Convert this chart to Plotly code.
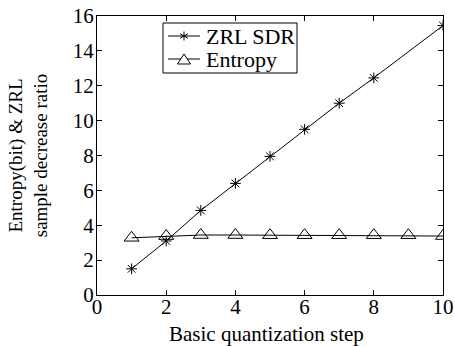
import plotly.graph_objects as go

steps_sdr = [1, 2, 3, 4, 5, 6, 7, 8, 10]
zrl_sdr = [1.5, 3.1, 4.85, 6.4, 7.95, 9.5, 11.0, 12.45, 15.45]
steps_ent = [1, 2, 3, 4, 5, 6, 7, 8, 9, 10]
entropy = [3.28, 3.38, 3.44, 3.44, 3.43, 3.43, 3.43, 3.43, 3.43, 3.38]

x_ticks = [0, 2, 4, 6, 8, 10]
y_ticks = [0, 2, 4, 6, 8, 10, 12, 14, 16]
legend_names = ["ZRL SDR", "Entropy"]
x_title = "Basic quantization step"
y_title = "Entropy(bit) & ZRL<br>sample decrease ratio"

fam = "Liberation Serif, Times New Roman, serif"
tick_font = dict(family=fam, size=21, color="black")
xt_font = dict(family=fam, size=21, color="black")
yt_font = dict(family=fam, size=19, color="black")
leg_font = dict(family=fam, size=22, color="black")

W, H = 455, 346
ML, MR, MT, MB = 97, 12, 16, 51
PW, PH = W - ML - MR, H - MT - MB


def px2paper(px, py):
    return (px - ML) / PW, (H - MB - py) / PH


fig = go.Figure()
fig.add_trace(go.Scatter(
    x=steps_sdr, y=zrl_sdr, name=legend_names[0], mode="lines+markers",
    line=dict(color="black", width=1),
    marker=dict(symbol="asterisk-open", size=9, color="black", line=dict(width=1, color="black")),
    showlegend=False,
))
fig.add_trace(go.Scatter(
    x=steps_ent, y=entropy, name=legend_names[1], mode="lines+markers",
    line=dict(color="black", width=1),
    marker=dict(symbol="triangle-up-open", size=13, color="black", line=dict(width=1, color="black")),
    showlegend=False,
))

axis_common = dict(
    showline=True, linecolor="black", linewidth=1, mirror="ticks",
    ticks="inside", ticklen=5, tickcolor="black", showgrid=False, zeroline=False,
    tickfont=tick_font, automargin=False,
)
fig.update_xaxes(range=[0, 10], tickvals=x_ticks, ticklabelstandoff=-7, **axis_common)
fig.update_yaxes(range=[0, 16], tickvals=y_ticks, ticklabelstandoff=-2,
                 title=dict(text=y_title, font=yt_font, standoff=20),
                 **axis_common)

# Manual legend box (MATLAB-style, compact rows)
shapes = []
x0, y0 = px2paper(163, 73)
x1, y1 = px2paper(297, 23)
shapes.append(dict(type="rect", xref="paper", yref="paper", x0=x0, y0=y0, x1=x1, y1=y1,
                   line=dict(color="black", width=1), fillcolor="white", layer="above"))
rows_py = [36, 59]
lx0, lx1, mx = 168, 200, 184
for i, py in enumerate(rows_py):
    a, b = px2paper(lx0, py)
    c, _ = px2paper(lx1, py)
    shapes.append(dict(type="line", xref="paper", yref="paper", x0=a, y0=b, x1=c, y1=b,
                       line=dict(color="black", width=1), layer="above"))
# asterisk marker in legend
cx, cy = px2paper(mx, rows_py[0])
r = 4.5
for dx, dy in [(0, r), (r * 0.87, r * 0.5), (r * 0.87, -r * 0.5)]:
    shapes.append(dict(type="line", xref="paper", yref="paper",
                       x0=cx - dx / PW, y0=cy - dy / PH, x1=cx + dx / PW, y1=cy + dy / PH,
                       line=dict(color="black", width=1), layer="above"))
# triangle marker in legend
tx, ty = px2paper(mx, rows_py[1])
hw, hh = 6.5, 5
path = "M {} {} L {} {} L {} {} Z".format(
    tx - hw / PW, ty - hh / PH, tx + hw / PW, ty - hh / PH, tx, ty + hh / PH)
shapes.append(dict(type="path", xref="paper", yref="paper", path=path,
                   line=dict(color="black", width=1), fillcolor="white", layer="above"))

annotations = []
for name, py in zip(legend_names, rows_py):
    ax_, ay_ = px2paper(204, py)
    annotations.append(dict(text=name, xref="paper", yref="paper", x=ax_, y=ay_,
                            xanchor="left", yanchor="middle", showarrow=False, font=leg_font))
# x-axis title
tx_, ty_ = px2paper(266, 334)
annotations.append(dict(text=x_title, xref="paper", yref="paper", x=tx_, y=ty_,
                        xanchor="center", yanchor="middle", showarrow=False, font=xt_font))

fig.update_layout(
    width=W, height=H,
    margin=dict(l=ML, r=MR, t=MT, b=MB),
    paper_bgcolor="white", plot_bgcolor="white",
    font=tick_font,
    showlegend=False,
    shapes=shapes,
    annotations=annotations,
)

fig.write_html("out.html")
